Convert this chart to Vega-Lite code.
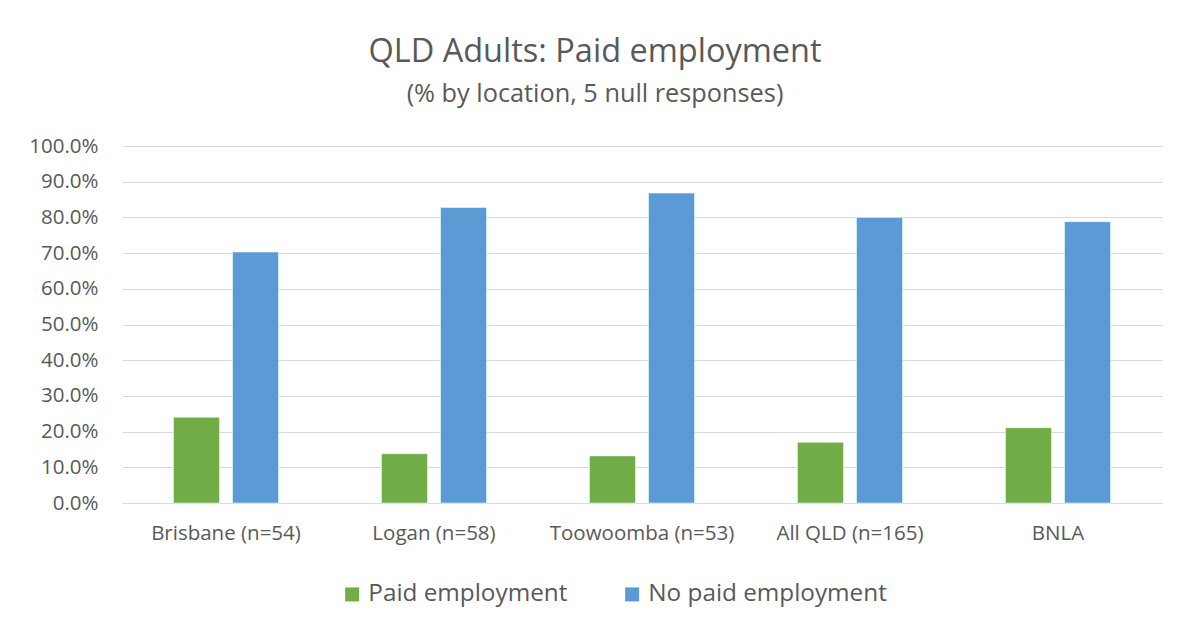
{
  "$schema": "https://vega.github.io/schema/vega-lite/v6.json",
  "width": 1040,
  "height": 357,
  "autosize": "none",
  "padding": {"left": 122, "top": 146, "right": 20, "bottom": 120},
  "background": "white",
  "title": {
    "text": "QLD Adults: Paid employment",
    "subtitle": "(% by location, 5 null responses)",
    "anchor": "middle",
    "frame": "group",
    "dx": -47,
    "offset": 29,
    "font": "Open Sans",
    "fontSize": 32.5,
    "fontWeight": "normal",
    "color": "#595959",
    "subtitleFont": "Open Sans",
    "subtitleFontSize": 25.3,
    "subtitleColor": "#595959",
    "subtitlePadding": 13
  },
  "data": {
    "values": [
      {"location": "Brisbane (n=54)", "status": "Paid employment", "pct": 0.240},
      {"location": "Brisbane (n=54)", "status": "No paid employment", "pct": 0.703},
      {"location": "Logan (n=58)", "status": "Paid employment", "pct": 0.138},
      {"location": "Logan (n=58)", "status": "No paid employment", "pct": 0.828},
      {"location": "Toowoomba (n=53)", "status": "Paid employment", "pct": 0.132},
      {"location": "Toowoomba (n=53)", "status": "No paid employment", "pct": 0.868},
      {"location": "All QLD (n=165)", "status": "Paid employment", "pct": 0.170},
      {"location": "All QLD (n=165)", "status": "No paid employment", "pct": 0.800},
      {"location": "BNLA", "status": "Paid employment", "pct": 0.211},
      {"location": "BNLA", "status": "No paid employment", "pct": 0.788}
    ]
  },
  "mark": {"type": "bar", "stroke": "white", "strokeWidth": 0.5},
  "encoding": {
    "x": {
      "field": "location",
      "type": "nominal",
      "sort": ["Brisbane (n=54)", "Logan (n=58)", "Toowoomba (n=53)", "All QLD (n=165)", "BNLA"],
      "scale": {"paddingInner": 0, "paddingOuter": 0},
      "axis": {
        "title": null,
        "labelAngle": 0,
        "ticks": false,
        "domain": true,
        "domainColor": "#D9D9D9",
        "domainWidth": 1,
        "labelFont": "Open Sans",
        "labelFontSize": 20.5,
        "labelColor": "#595959",
        "labelPadding": 20,
        "labelLimit": 0
      }
    },
    "xOffset": {
      "field": "status",
      "type": "nominal",
      "sort": ["Paid employment", "No paid employment"],
      "scale": {"paddingInner": 0.22, "paddingOuter": 0.8725}
    },
    "y": {
      "field": "pct",
      "type": "quantitative",
      "scale": {"domain": [0, 1]},
      "axis": {
        "title": null,
        "format": ".1%",
        "values": [0, 0.1, 0.2, 0.3, 0.4, 0.5, 0.6, 0.7, 0.8, 0.9, 1.0],
        "domain": false,
        "ticks": false,
        "grid": true,
        "gridColor": "#D9D9D9",
        "gridWidth": 1,
        "labelFont": "Open Sans",
        "labelFontSize": 20.5,
        "labelColor": "#595959",
        "labelPadding": 24
      }
    },
    "color": {
      "field": "status",
      "type": "nominal",
      "sort": ["Paid employment", "No paid employment"],
      "scale": {"domain": ["Paid employment", "No paid employment"], "range": ["#70AD47", "#5B9BD5"]},
      "legend": {
        "title": null,
        "orient": "none",
        "direction": "horizontal",
        "legendX": 218,
        "legendY": 436,
        "symbolType": "square",
        "symbolSize": 196,
        "symbolStrokeWidth": 0,
        "labelFont": "Open Sans",
        "labelFontSize": 24.3,
        "labelColor": "#595959",
        "labelOffset": 4,
        "labelLimit": 0,
        "columnPadding": 52
      }
    }
  },
  "config": {
    "view": {"stroke": null}
  }
}
